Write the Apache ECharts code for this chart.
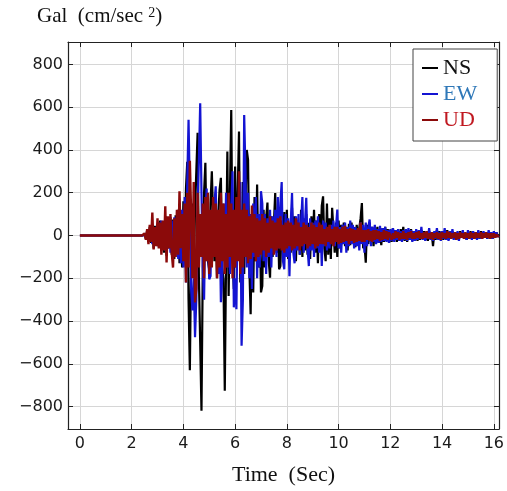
<!DOCTYPE html>
<html><head><meta charset="utf-8">
<script src="https://cdn.jsdelivr.net/npm/echarts@6/dist/echarts.min.js"></script>
<style>html,body{margin:0;padding:0;background:#fff}#c{width:507px;height:491px}</style>
</head><body><div id="c"></div>
<script>
// sampling grid of the record (seconds); a quiet lead-in from t = 0
const T0 = 2.0, DT = 0.05;
const seriesNames = ['NS', 'EW', 'UD'];
const xTicks = [0, 2, 4, 6, 8, 10, 12, 14, 16];
const yTicks = [-800, -600, -400, -200, 0, 200, 400, 600, 800];

// NS component (Gal), one row per second from 2.0 s
const ns = [
  0,0,0,0,0,0,0,0,0,0, 5,-15,25,-30,40,-35,50,-60,45,-40,
  55,-50,70,-65,60,-80,90,-95,70,-60, 85,-90,75,-110,95,-80,120,-130,100,-150,
  160,-120,220,345,-300,-630,-100,150,-180,120, 300,480,-200,-500,-820,-150,200,340,-50,-120,
  -160,150,300,80,-120,60,-200,100,215,270, -150,-205,-726,-120,393,-283,200,587,-100,-250,
  323,-150,200,486,-220,-100,250,-180,150,400, 354,-150,-368,100,-266,180,-120,238,-150,100,
  -266,-236,120,-150,80,154,-120,-197,90,-100, 60,199,-80,100,-158,-143,70,-60,110,-90,
  120,-110,50,-80,130,-60,90,-120,70,43, -90,120,-100,80,-70,100,-90,60,-110,90,
  -60,120,-80,70,-130,100,-50,140,183,-60, -120,150,-90,80,-110,130,121,-80,60,-100,
  70,-60,50,-40,60,-50,40,-70,55,-45, 60,-35,40,-55,50,-40,35,80,152,-60,
  -40,-127,50,-40,60,-30,40,-50,35,-25, 40,-35,30,-45,35,-30,40,-25,30,-35,
  25,-30,35,-20,25,-30,20,-25,30,-20, 40,-25,20,-30,25,-20,30,-25,20,-15,
  20,-25,15,-20,25,-15,20,-20,15,-25, 20,-15,10,-50,15,-20,25,-15,20,-15,
  15,-20,20,-15,25,-20,15,-15,20,-10, 15,-20,10,-15,20,-10,15,-15,10,-20,
  15,-10,20,-15,10,-15,15,-10,10,-15, 20,-10,15,-10,10,-15,15,-10,10,-15,
  10,-10,15,-5,5
];
// EW component (Gal)
const ew = [
  0,0,0,0,0,0,0,0,0,0, 0,10,-20,30,-25,35,-40,30,-35,40,
  -50,60,-45,70,-60,65,-70,80,-60,75, -80,70,-90,85,-100,90,-110,80,-130,120,
  -150,180,-220,250,541,200,-250,-350,-200,-476, -300,150,350,619,200,-150,-300,100,220,-50,
  -205,-190,120,-80,150,230,-100,-180,100,-312, -200,150,-100,200,-150,100,-180,120,300,-336,
  -200,-345,150,-100,250,-516,-300,564,300,-150, 200,-200,100,-250,150,-100,180,-200,100,-150,
  207,150,-120,100,-180,80,-100,120,-150,90, -80,120,-100,180,-60,150,250,-120,-158,100,
  -100,80,-190,60,199,-80,-130,90,-70,100, -90,60,180,-80,50,176,-60,-143,80,-70,
  60,-100,70,-60,90,-80,50,-143,70,-50, 60,-70,40,-60,50,-40,70,-50,40,121,
  -60,40,-80,50,-40,60,-80,40,-50,70, -40,50,-60,40,-50,30,-70,60,-40,50,
  -80,60,-50,40,75,-50,40,-30,50,-40, 30,-35,45,-30,35,-25,40,-30,25,-35,
  30,-25,35,-30,25,-20,30,-25,20,-30, 25,-20,30,-25,35,-20,25,-30,20,-25,
  30,-20,25,-15,40,-20,15,-25,20,-15, 35,-20,15,-25,20,-15,35,-20,15,-25,
  20,-15,35,-20,15,-25,20,-15,30,-20, 15,-15,20,-25,15,-10,25,-15,10,-20,
  25,-15,15,-20,20,-10,15,-20,25,-15, 10,-15,20,-10,15,-15,25,-10,15,-15,
  20,-10,15,-5,0
];
// UD component (Gal)
const ud = [
  0,0,0,0,0,0,0,0,0,0, 10,-20,30,-40,50,-30,107,-65,40,-50,
  80,-60,60,-90,70,-70,137,-126,90,-60, 100,-80,-150,80,-100,120,-90,207,-60,100,
  -120,150,-220,200,-150,350,100,-200,250,-313, -250,200,-150,100,-100,150,-200,180,-120,200,
  -180,120,-150,180,-100,150,-200,120,-150,200, -120,150,-180,100,-150,200,-100,150,-200,120,
  -150,180,-120,300,-180,120,-150,150,-100,120, -130,90,-110,140,-80,100,-120,80,-100,70,
  -90,100,-70,80,-100,60,-80,90,-60,70, -90,60,-70,80,-60,90,-70,50,-80,60,
  -60,70,-50,60,-70,50,-60,80,-50,60, -70,40,-50,60,-40,50,-60,40,-50,60,
  -40,50,-60,40,-50,60,-40,50,-40,30, -50,40,-30,50,-40,30,-50,40,-30,40,
  -40,30,-35,40,-30,45,-25,30,-40,35, -25,30,-35,25,-30,35,-25,60,-30,25,
  -30,25,-20,30,-25,20,-30,25,-20,25, -15,20,-25,15,-20,25,-15,20,-20,15,
  15,-20,10,-15,20,-10,15,-20,10,-15, 20,-15,10,-20,15,-10,20,-15,10,-15,
  15,-10,20,-15,10,-15,15,-10,20,-15, 10,-15,15,-20,10,-10,15,-15,10,-20,
  15,-10,10,-15,20,-10,15,-15,10,-10, 15,-20,10,-15,15,-10,10,-15,15,-10,
  10,-15,15,-10,10,-15,15,-10,10,-10, 15,-15,10,-10,15,-10,10,-15,10,-10,
  10,-10,5,-5,0
];

const lineColors = ['#000000', '#1414d2', '#8b0a0a'];
const lineWidths = [2.2, 2.2, 2.4];
const legendTextColors = ['#111111', '#2f78b8', '#c01820'];

function pairs(vals) {
  const out = [[0, 0]];
  for (let i = 0; i < vals.length; i++) out.push([+(T0 + i * DT).toFixed(2), vals[i]]);
  return out;
}
const allVals = [ns, ew, ud];

const XMIN = -0.46, XMAX = 16.2, YMIN = -905, YMAX = 905;
const labelFont = 'DejaVu Sans';
const serif = 'Liberation Serif';
const fmt = v => (v < 0 ? '\u2212' + Math.abs(v) : String(v));

const baseX = {
  type: 'value', min: XMIN, max: XMAX, minInterval: 2, maxInterval: 2,
  axisLine: { show: true, onZero: false, lineStyle: { color: '#222', width: 1.2 } },
  axisTick: { show: true, inside: true, length: 5, lineStyle: { color: '#222' } },
  splitLine: { show: false },
  axisLabel: { show: false }
};
const baseY = {
  type: 'value', min: YMIN, max: YMAX, minInterval: 200, maxInterval: 200,
  axisLine: { show: true, onZero: false, lineStyle: { color: '#222', width: 1.2 } },
  axisTick: { show: true, inside: true, length: 5, lineStyle: { color: '#222' } },
  splitLine: { show: false },
  axisLabel: { show: false }
};

const chart = echarts.init(document.getElementById('c'), null, { renderer: 'canvas' });
chart.setOption({
  animation: false,
  backgroundColor: '#fff',
  grid: { left: 68, right: 3, top: 42, bottom: 61 },
  title: {
    text: '{a|Gal  (cm/sec }{s|2}{a|)}',
    left: 32, top: -2,
    textStyle: {
      fontWeight: 'normal',
      rich: {
        a: { fontFamily: serif, fontSize: 21, fontWeight: 'normal', color: '#111', verticalAlign: 'bottom', lineHeight: 24 },
        s: { fontFamily: serif, fontSize: 14, fontWeight: 'normal', color: '#111', verticalAlign: 'top', lineHeight: 14, padding: [3, 0, 0, 0] }
      }
    }
  },
  legend: {
    orient: 'vertical', left: 413, top: 49,
    padding: [8, 20, 10, 9], itemGap: 4,
    itemWidth: 16, itemHeight: 2, icon: 'rect',
    backgroundColor: '#fff', borderColor: '#444', borderWidth: 1,
    textStyle: { fontFamily: serif, fontSize: 22 },
    data: seriesNames.map((n, i) => ({ name: n, textStyle: { color: legendTextColors[i], fontFamily: serif, fontSize: 22 } }))
  },
  xAxis: [
    Object.assign({}, baseX, {
      position: 'bottom',
      splitLine: { show: true, lineStyle: { color: '#d6d6d6', width: 1 } },
      axisLabel: { show: true, showMinLabel: false, showMaxLabel: false, margin: 7,
        fontFamily: labelFont, fontSize: 16, color: '#1a1a1a',
        formatter: v => (xTicks.indexOf(v) >= 0 ? fmt(v) : '') },
      name: 'Time  (Sec)', nameLocation: 'middle', nameGap: 35,
      nameTextStyle: { fontFamily: serif, fontSize: 22, color: '#111' }
    }),
    Object.assign({}, baseX, { position: 'top' })
  ],
  yAxis: [
    Object.assign({}, baseY, {
      position: 'left',
      splitLine: { show: true, lineStyle: { color: '#d6d6d6', width: 1 } },
      axisLabel: { show: true, showMinLabel: false, showMaxLabel: false, margin: 5,
        fontFamily: labelFont, fontSize: 16, color: '#1a1a1a',
        formatter: v => (yTicks.indexOf(v) >= 0 ? fmt(v) : '') }
    }),
    Object.assign({}, baseY, { position: 'right' })
  ],
  series: seriesNames.map((n, i) => ({
    name: n, type: 'line', xAxisIndex: 0, yAxisIndex: 0,
    data: pairs(allVals[i]),
    symbol: 'none', showSymbol: false,
    color: lineColors[i],
    lineStyle: { color: lineColors[i], width: lineWidths[i] },
    z: 2 + i
  }))
});
</script>
</body></html>
